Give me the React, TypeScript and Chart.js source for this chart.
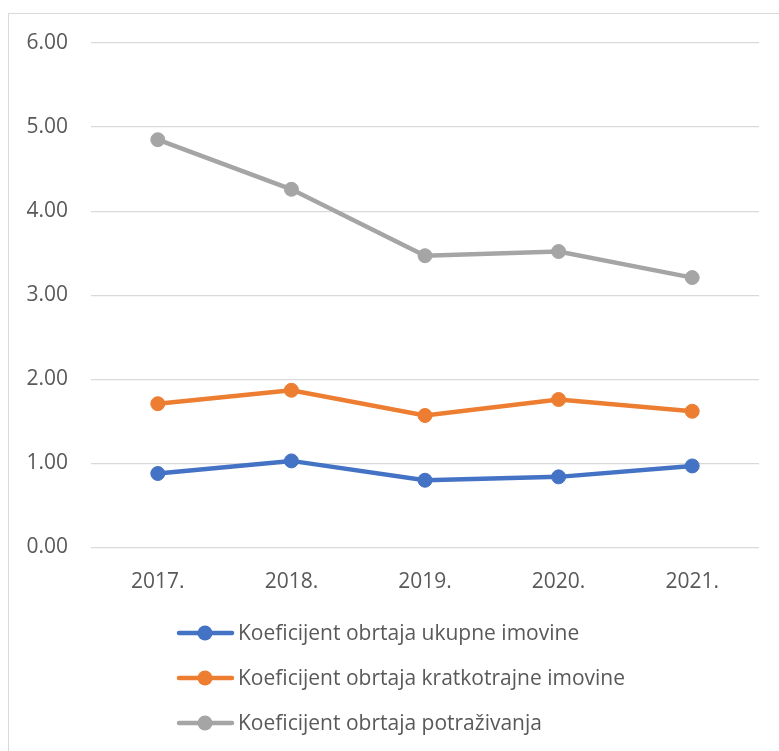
import React, { useEffect, useRef } from "react";
import { Chart, registerables } from "chart.js";

Chart.register(...registerables);

const categories = ["2017.", "2018.", "2019.", "2020.", "2021."];
const ukupneImovine = [0.88, 1.03, 0.8, 0.84, 0.97];
const kratkotrajneImovine = [1.71, 1.87, 1.57, 1.76, 1.62];
const potrazivanja = [4.85, 4.26, 3.47, 3.52, 3.21];
const seriesNames = [
  "Koeficijent obrtaja ukupne imovine",
  "Koeficijent obrtaja kratkotrajne imovine",
  "Koeficijent obrtaja potraživanja",
];
const colors = ["#4472C4", "#ED7D31", "#A5A5A5"];

const FONT = "'Open Sans', sans-serif";

const legendPlugin = {
  id: "stackedLegend",
  afterDraw(chart: any) {
    const ctx = chart.ctx;
    ctx.save();
    chart.data.datasets.forEach((ds: any, i: number) => {
      const y = 633 + i * 45;
      ctx.strokeStyle = ds.borderColor;
      ctx.lineWidth = 4.5;
      ctx.lineCap = "round";
      ctx.beginPath();
      ctx.moveTo(179, y);
      ctx.lineTo(232, y);
      ctx.stroke();
      ctx.fillStyle = ds.borderColor;
      ctx.beginPath();
      ctx.arc(205, y, 7.5, 0, Math.PI * 2);
      ctx.fill();
      ctx.fillStyle = "#595959";
      ctx.font = `21px ${FONT}`;
      ctx.textBaseline = "middle";
      ctx.textAlign = "left";
      ctx.fillText(ds.label, 238, y + 1);
    });
    ctx.restore();
  },
};

export default function App() {
  const ref = useRef<HTMLCanvasElement>(null);
  useEffect(() => {
    if (!ref.current) return;
    const data = [ukupneImovine, kratkotrajneImovine, potrazivanja];
    const chart = new Chart(ref.current, {
      type: "line",
      data: {
        labels: categories,
        datasets: data.map((d, i) => ({
          label: seriesNames[i],
          data: d,
          borderColor: colors[i],
          backgroundColor: colors[i],
          borderWidth: 4.5,
          pointRadius: 7,
          pointBorderWidth: 1,
          pointBackgroundColor: colors[i],
          pointBorderColor: colors[i],
          tension: 0,
        })),
      },
      options: {
        animation: false,
        responsive: false,
        maintainAspectRatio: false,
        layout: { padding: { left: 0, right: 20, top: 43, bottom: 150 } },
        plugins: {
          legend: { display: false },
          tooltip: { enabled: false },
        },
        scales: {
          x: {
            offset: true,
            grid: { display: false, drawTicks: false, offset: true },
            border: { display: false },
            ticks: {
              color: "#595959",
              font: { family: FONT, size: 21 },
              padding: 22,
            },
            afterFit: (s: any) => {
              s.height = 751 - 547.5 - 150;
            },
          },
          y: {
            min: 0,
            max: 6,
            grid: { color: "#d9d9d9", lineWidth: 1.3, drawTicks: false },
            border: { display: false },
            ticks: {
              stepSize: 1,
              color: "#595959",
              font: { family: FONT, size: 21 },
              padding: 23,
              callback: (v: any) => Number(v).toFixed(2),
            },
            afterFit: (s: any) => {
              s.width = 91;
            },
          },
        },
      },
      plugins: [legendPlugin],
    });
    return () => chart.destroy();
  }, []);
  return (
    <div style={{ position: "absolute", left: 0, top: 0, width: 779, height: 751, overflow: "hidden", background: "#fff" }}>
      <div
        style={{
          position: "absolute",
          left: 8,
          top: 13,
          width: 800,
          height: 800,
          borderLeft: "1.5px solid #d9d9d9",
          borderTop: "1.5px solid #d9d9d9",
        }}
      />
      <canvas ref={ref} width={779} height={751} style={{ position: "absolute", left: 0, top: 0 }} />
    </div>
  );
}
